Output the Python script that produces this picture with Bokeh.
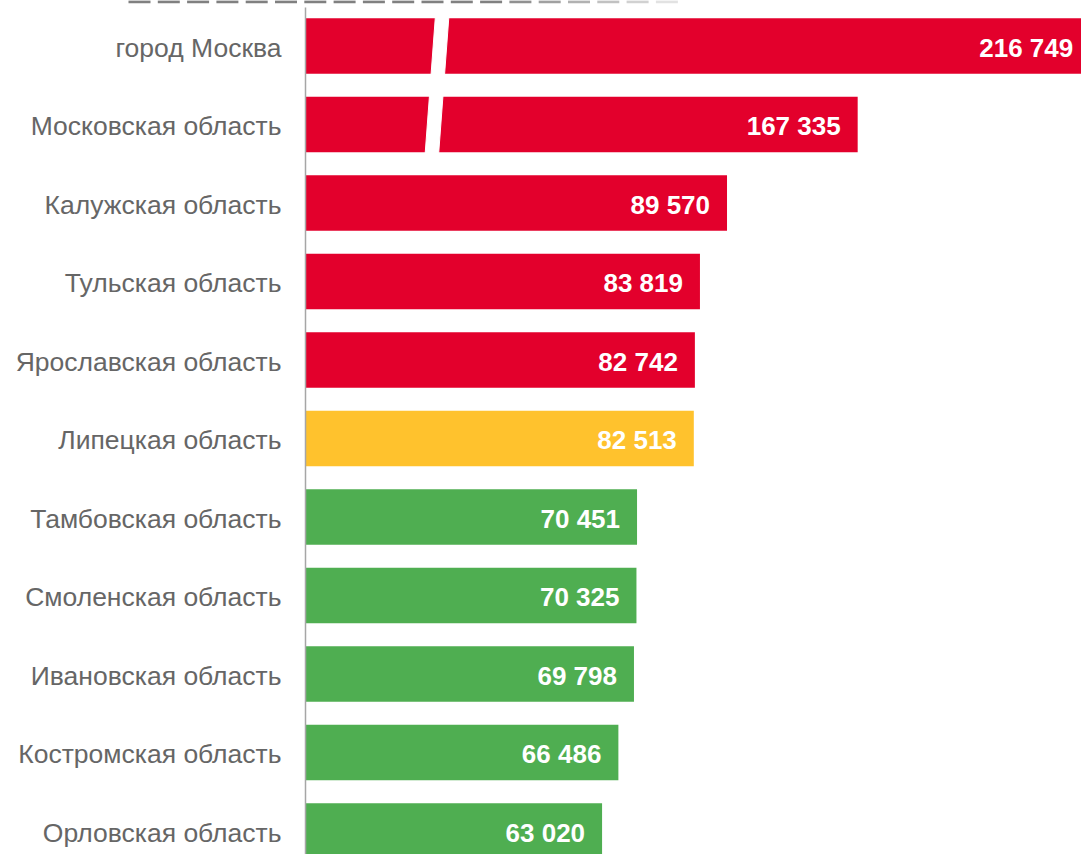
from bokeh.plotting import figure
from bokeh.models import Range1d, ColumnDataSource
from bokeh.core.properties import value
from bokeh.embed import file_html
from bokeh.resources import INLINE

# ---- data ----
regions = [
    "город Москва",
    "Московская область",
    "Калужская область",
    "Тульская область",
    "Ярославская область",
    "Липецкая область",
    "Тамбовская область",
    "Смоленская область",
    "Ивановская область",
    "Костромская область",
    "Орловская область",
]
values = [216749, 167335, 89570, 83819, 82742, 82513, 70451, 70325, 69798, 66486, 63020]
groups = ["high", "high", "high", "high", "high", "mid", "low", "low", "low", "low", "low"]

# ---- style ----
RED = "#E3002C"
YELLOW = "#FFC22D"
GREEN = "#4FAE51"
group_color = {"high": RED, "mid": YELLOW, "low": GREEN}
LABEL_GRAY = "#666666"
AXIS_GRAY = "#A6A6A6"
FONT = "Liberation Sans"

W, H = 1081, 854
PX_PER_UNIT = 0.004706      # horizontal scale (pixels per value unit)
ROW_PX = 78.5               # vertical pixels per row
AXIS_PX = 305               # screen x of the zero line
TOP_ROW_PX = 45.5           # screen y of the first row centre

# broken-axis: bars above the threshold are shortened by CUT and get a break mark
BREAK_THRESHOLD = 150000
CUT = 50000
BREAK_AT = 27944            # x position of break mark centre (value units)
BREAK_HALF = 1434           # half width of white band (value units)
BREAK_SLANT = 1245          # horizontal shift per row height (value units)

n = len(regions)
ypos = [n - 1 - i for i in range(n)]
display = [v - CUT if v > BREAK_THRESHOLD else v for v in values]
colors = [group_color[g] for g in groups]
val_labels = [f"{v:,}".replace(",", " ") for v in values]

src = ColumnDataSource(dict(y=ypos, right=display, color=colors,
                            region=regions, vlabel=val_labels))


def sx(px):
    return (px - AXIS_PX) / PX_PER_UNIT


def sy(px):
    return (n - 1) + (TOP_ROW_PX - px) / ROW_PX


p = figure(width=W, height=H,
           x_range=Range1d(sx(0), sx(W)),
           y_range=Range1d(sy(H), sy(0)),
           x_axis_location=None, y_axis_location=None,
           toolbar_location=None, output_backend="svg",
           min_border=0)
p.outline_line_color = None
p.xgrid.visible = False
p.ygrid.visible = False
p.background_fill_color = "white"
p.border_fill_color = "white"

BAR_H = 0.707
p.hbar(y="y", left=0, right="right", height=BAR_H, color="color",
       line_color=None, source=src)

# break marks across the broken bars
broken = [i for i, v in enumerate(values) if v > BREAK_THRESHOLD]
if broken:
    y_top = max(ypos[i] for i in broken) + BAR_H / 2 + 0.04
    y_bot = min(ypos[i] for i in broken) - BAR_H / 2 - 0.04
    y_mid = (y_top + y_bot) / 2
    cx_top = BREAK_AT + BREAK_SLANT * (y_top - y_mid)
    cx_bot = BREAK_AT + BREAK_SLANT * (y_bot - y_mid)
    p.patch(x=[cx_top - BREAK_HALF, cx_top + BREAK_HALF,
               cx_bot + BREAK_HALF, cx_bot - BREAK_HALF],
            y=[y_top, y_top, y_bot, y_bot],
            fill_color="white", line_color="white", line_width=1)

# vertical axis line
p.segment(x0=[0], y0=[sy(7)], x1=[0], y1=[sy(H + 5)],
          line_color=AXIS_GRAY, line_width=1.5)

# faded dashed rule at the very top (decorative)
dash_x0, dash_x1, dash_col = [], [], []
start, period, length = 128.0, 29.3, 22.0
k = 0
while start + k * period < 680:
    a = start + k * period
    dash_x0.append(sx(a))
    dash_x1.append(sx(a + length))
    t = min(max((a - 480) / 200.0, 0.0), 1.0)
    g = int(128 + t * (240 - 128))
    dash_col.append("#%02x%02x%02x" % (g, g, g))
    k += 1
p.segment(x0=dash_x0, y0=[sy(1.3)] * len(dash_x0), x1=dash_x1,
          y1=[sy(1.3)] * len(dash_x0), line_color=dash_col, line_width=3)

# category labels
p.text(x=0, y="y", text="region", source=src, x_offset=-24, y_offset=1.5,
       text_align="right", text_baseline="middle",
       text_font=value(FONT), text_font_size="26.5px", text_color=LABEL_GRAY)

# value labels
p.text(x="right", y="y", text="vlabel", source=src, x_offset=-17, y_offset=1.5,
       text_align="right", text_baseline="middle",
       text_font=value(FONT), text_font_size="26px", text_font_style="bold",
       text_color="white")

open("out.html", "w").write(file_html(p, INLINE))
